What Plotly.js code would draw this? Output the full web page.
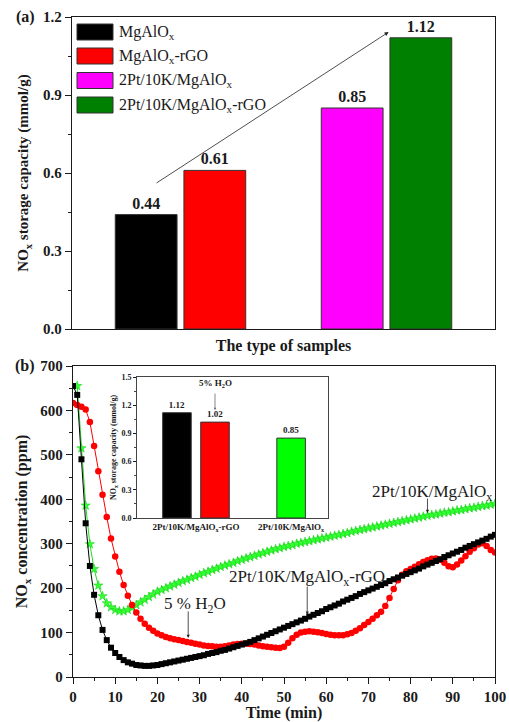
<!DOCTYPE html>
<html>
<head>
<meta charset="utf-8">
<script src="https://cdn.plot.ly/plotly-3.0.1.min.js"></script>
<style>html,body{margin:0;padding:0;background:#fff;}#chart{width:509px;height:722px;}</style>
</head>
<body>
<div id="chart"></div>
<script>
// ---------- Panel (a) data ----------
const barLabels = ['MgAlO<sub>x</sub>', 'MgAlO<sub>x</sub>-rGO', '2Pt/10K/MgAlO<sub>x</sub>', '2Pt/10K/MgAlO<sub>x</sub>-rGO'];
const barValues = [0.44, 0.61, 0.85, 1.12];
const barColors = ['#000000', '#FF0000', '#FF00FF', '#008000'];
const barGroup = [0, 0, 1, 1];

// ---------- Panel (b) data ----------
const minutes = [0,1,2,3,4,5,6,7,8,9,10,11,12,13,14,15,16,17,18,19,20,21,22,23,24,25,26,27,28,29,30,31,32,33,34,35,36,37,38,39,40,41,42,43,44,45,46,47,48,49,50,51,52,53,54,55,56,57,58,59,60,61,62,63,64,65,66,67,68,69,70,71,72,73,74,75,76,77,78,79,80,81,82,83,84,85,86,87,88,89,90,91,92,93,94,95,96,97,98,99,100];
const noxRGO = [655,635,490,346,250,185,139,106,83,66,
  54,45,38,33,30,27,26,25,25,26,
  27,29,31,33,35,37,39,41,43,45,
  47,49,52,54,56,59,61,64,67,70,
  73,76,79,83,87,91,95,99,103,107,
  111,115,119,123,127,131,136,140,144,148,
  153,157,161,165,170,174,178,182,187,191,
  195,199,203,207,211,216,220,224,228,232,
  236,240,244,249,253,257,261,265,270,274,
  278,282,286,291,295,299,303,307,311,316,
  320];
const noxRGOWater = [617,612,608,602,574,520,463,410,360,312,
  271,237,207,183,162,145,131,120,111,104,
  98,94,90,87,85,83,81,79,77,75,
  73,71,70,69,68,68,69,71,73,74,
  75,75,74,73,71,69,68,67,66,65,
  68,77,87,95,100,102,103,102,101,99,
  97,95,94,94,94,96,99,104,110,117,
  124,131,139,147,160,178,198,218,230,238,
  243,248,254,259,263,266,267,264,257,249,
  247,253,262,272,282,290,298,301,295,286,
  280];
const noxPtK = [null,655,515,386,299,243,206,182,166,157,
  151,148,148,151,156,162,168,174,180,186,
  192,196,200,204,208,212,216,219,223,226,
  230,234,237,241,244,248,251,254,257,261,
  264,267,270,273,276,279,282,285,288,290,
  293,295,297,300,302,304,306,308,310,312,
  314,316,318,320,322,324,327,329,331,333,
  335,337,339,341,343,345,347,349,351,353,
  355,357,359,361,363,365,366,368,370,371,
  373,375,376,378,380,381,383,385,386,388,
  390];

// ---------- Inset data ----------
const insetGroups = ['2Pt/10K/MgAlO<sub>x</sub>-rGO', '2Pt/10K/MgAlO<sub>x</sub>'];
const insetValues = [1.12, 1.02, 0.85];
const insetColors = ['#000000', '#FF0000', '#00FF00'];
const insetGroupOf = [0, 0, 1];

// ---------- helpers ----------
const W = 509, H = 722;
const px = v => v / W;
const py = v => 1 - v / H;
const FONT = 'Liberation Serif, "Times New Roman", serif';
const INK = '#1a1a1a';

const barPos = barValues.map((_, i) => i + barGroup[i]);
const insetPos = insetValues.map((_, i) => i + insetGroupOf[i]);
const insetTickPos = insetGroups.map((_, g) => {
  const p = insetPos.filter((_, i) => insetGroupOf[i] === g);
  return p.reduce((a, b) => a + b, 0) / p.length;
});

const traces = [
  {
    type: 'bar', x: barPos, y: barValues, xaxis: 'x', yaxis: 'y', width: 0.9,
    marker: {color: barColors, line: {color: '#333', width: 1}},
    text: barValues.map(v => v.toFixed(2)), textposition: 'outside', constraintext: 'none',
    textfont: {family: FONT, size: 16, weight: 'bold', color: INK}, cliponaxis: false,
    hoverinfo: 'skip'
  },
  {
    type: 'scatter', mode: 'lines+markers', x: minutes, y: noxPtK, xaxis: 'x2', yaxis: 'y2',
    line: {color: '#22DD22', width: 1},
    marker: {symbol: 'star', size: 7, color: '#33FF33', line: {color: '#11CC11', width: 0.5}},
    name: '2Pt/10K/MgAlOx'
  },
  {
    type: 'scatter', mode: 'lines+markers', x: minutes, y: noxRGOWater, xaxis: 'x2', yaxis: 'y2',
    line: {color: '#FF0000', width: 1},
    marker: {symbol: 'circle', size: 6.5, color: '#FF0000'},
    name: '2Pt/10K/MgAlOx-rGO 5% H2O'
  },
  {
    type: 'scatter', mode: 'lines+markers', x: minutes, y: noxRGO, xaxis: 'x2', yaxis: 'y2',
    line: {color: '#000000', width: 1},
    marker: {symbol: 'square', size: 6, color: '#000000'},
    name: '2Pt/10K/MgAlOx-rGO'
  },
  {
    type: 'bar', x: insetPos, y: insetValues, xaxis: 'x3', yaxis: 'y3', width: 0.75,
    marker: {color: insetColors, line: {color: '#333', width: 1}},
    text: insetValues.map(v => v.toFixed(2)), textposition: 'outside', constraintext: 'none',
    textfont: {family: FONT, size: 9, weight: 'bold', color: INK}, cliponaxis: false,
    hoverinfo: 'skip'
  }
];

const axisBase = {
  showline: true, mirror: true, linecolor: INK, linewidth: 1.2,
  showgrid: false, zeroline: false, tickcolor: INK
};

// legend rows (custom, wide swatches as in the reference)
const legendRows = [32, 56, 80.5, 105];
const shapes = [];
const annotations = [];
barLabels.forEach((lab, i) => {
  shapes.push({type: 'rect', xref: 'paper', yref: 'paper',
    x0: px(77), x1: px(113), y0: py(legendRows[i] + 8), y1: py(legendRows[i] - 8),
    fillcolor: barColors[i], line: {color: '#333', width: 1}});
  annotations.push({xref: 'paper', yref: 'paper', x: px(117), y: py(legendRows[i]),
    xanchor: 'left', yanchor: 'middle', text: lab, showarrow: false,
    font: {family: FONT, size: 16, color: INK}});
});

annotations.push(
  {xref: 'paper', yref: 'paper', x: px(25), y: py(17), text: '<b>(a)</b>', showarrow: false,
   xanchor: 'center', yanchor: 'middle', font: {family: FONT, size: 16, color: INK}},
  {xref: 'paper', yref: 'paper', x: px(25), y: py(366), text: '<b>(b)</b>', showarrow: false,
   xanchor: 'center', yanchor: 'middle', font: {family: FONT, size: 16, color: INK}},
  // trend arrow panel (a)
  {xref: 'x', yref: 'y', axref: 'x', ayref: 'y', x: 3.53, y: 1.142, ax: 0.13, ay: 0.558,
   text: '', showarrow: true, arrowhead: 2, arrowsize: 1, arrowwidth: 0.8, arrowcolor: '#222', standoff: 0},
  // panel (b) labels
  {xref: 'x2', yref: 'y2', x: 85, y: 415, text: '2Pt/10K/MgAlO<sub>x</sub>', showarrow: false,
   xanchor: 'center', yanchor: 'middle', font: {family: FONT, size: 17, color: INK}},
  {xref: 'x2', yref: 'y2', axref: 'x2', ayref: 'y2', x: 84, y: 369, ax: 84, ay: 405,
   text: '', showarrow: true, arrowhead: 2, arrowsize: 0.8, arrowwidth: 0.8, arrowcolor: '#222', standoff: 0},
  {xref: 'x2', yref: 'y2', x: 55.5, y: 223, text: '2Pt/10K/MgAlO<sub>x</sub>-rGO', showarrow: false,
   xanchor: 'center', yanchor: 'middle', font: {family: FONT, size: 17, color: INK}},
  {xref: 'x2', yref: 'y2', axref: 'x2', ayref: 'y2', x: 55.5, y: 140, ax: 55.5, ay: 207,
   text: '', showarrow: true, arrowhead: 2, arrowsize: 0.8, arrowwidth: 0.8, arrowcolor: '#222', standoff: 0},
  {xref: 'x2', yref: 'y2', x: 29, y: 162, text: '5 % H<sub>2</sub>O', showarrow: false,
   xanchor: 'center', yanchor: 'middle', font: {family: FONT, size: 17, color: INK}},
  {xref: 'x2', yref: 'y2', axref: 'x2', ayref: 'y2', x: 27.3, y: 88, ax: 27.3, ay: 151,
   text: '', showarrow: true, arrowhead: 2, arrowsize: 0.8, arrowwidth: 0.8, arrowcolor: '#222', standoff: 0},
  // inset note
  {xref: 'x3', yref: 'y3', x: 1, y: 1.43, text: '<b>5% H<sub>2</sub>O</b>', showarrow: false,
   xanchor: 'center', yanchor: 'middle', font: {family: FONT, size: 9, color: INK}},
  {xref: 'x3', yref: 'y3', axref: 'x3', ayref: 'y3', x: 1, y: 1.15, ax: 1, ay: 1.34,
   text: '', showarrow: true, arrowhead: 2, arrowsize: 0.6, arrowwidth: 0.7, arrowcolor: '#555', standoff: 0}
);

const layout = {
  width: W, height: H, margin: {l: 0, r: 0, t: 0, b: 0},
  paper_bgcolor: '#ffffff', plot_bgcolor: '#ffffff', showlegend: false,
  font: {family: FONT, color: INK},
  xaxis: Object.assign({}, axisBase, {
    domain: [px(72), px(495)], range: [-1.08, 5.08], anchor: 'y',
    showticklabels: false, ticks: '',
    title: {text: '<b>The type of samples</b>', font: {family: FONT, size: 16, color: INK}, standoff: 10}
  }),
  yaxis: Object.assign({}, axisBase, {
    domain: [py(329), py(17)], range: [0, 1.2], anchor: 'x',
    dtick: 0.3, tickformat: '.1f', ticks: 'outside', ticklen: 6,
    minor: {dtick: 0.15, ticks: 'outside', ticklen: 3, tickcolor: INK},
    tickfont: {family: FONT, size: 15, weight: 'bold', color: INK},
    title: {text: '<b>NO<sub>x</sub> storage capacity (mmol/g)</b>', font: {family: FONT, size: 15, color: INK}, standoff: 10}
  }),
  xaxis2: Object.assign({}, axisBase, {
    domain: [px(73), px(495)], range: [0, 100], anchor: 'y2',
    dtick: 10, ticks: 'outside', ticklen: 6,
    minor: {dtick: 5, ticks: 'outside', ticklen: 3, tickcolor: INK},
    tickfont: {family: FONT, size: 15, weight: 'bold', color: INK},
    title: {text: '<b>Time (min)</b>', font: {family: FONT, size: 16, color: INK}, standoff: 4}
  }),
  yaxis2: Object.assign({}, axisBase, {
    domain: [py(677), py(366)], range: [0, 700], anchor: 'x2',
    dtick: 100, ticks: 'outside', ticklen: 6,
    minor: {dtick: 50, ticks: 'outside', ticklen: 3, tickcolor: INK},
    tickfont: {family: FONT, size: 15, weight: 'bold', color: INK},
    title: {text: '<b>NO<sub>x</sub> concentration (ppm)</b>', font: {family: FONT, size: 16, color: INK}, standoff: 8}
  }),
  xaxis3: Object.assign({}, axisBase, {
    domain: [px(137), px(328)], range: [-1.05, 3.97], anchor: 'y3',
    linewidth: 1, linecolor: '#444',
    tickvals: insetTickPos, ticktext: insetGroups, ticks: '',
    tickfont: {family: FONT, size: 9, weight: 'bold', color: INK}
  }),
  yaxis3: Object.assign({}, axisBase, {
    domain: [py(518), py(377)], range: [0, 1.5], anchor: 'x3',
    linewidth: 1, linecolor: '#444',
    dtick: 0.3, tickformat: '.1f', ticks: 'outside', ticklen: 3,
    minor: {dtick: 0.15, ticks: 'outside', ticklen: 2, tickcolor: '#444'},
    tickfont: {family: FONT, size: 8, weight: 'bold', color: INK},
    title: {text: '<b>NO<sub>x</sub> storage capacity (mmol/g)</b>', font: {family: FONT, size: 8, color: INK}, standoff: 3}
  }),
  shapes: shapes,
  annotations: annotations
};

Plotly.newPlot('chart', traces, layout, {displayModeBar: false, staticPlot: true});
</script>
</body>
</html>
